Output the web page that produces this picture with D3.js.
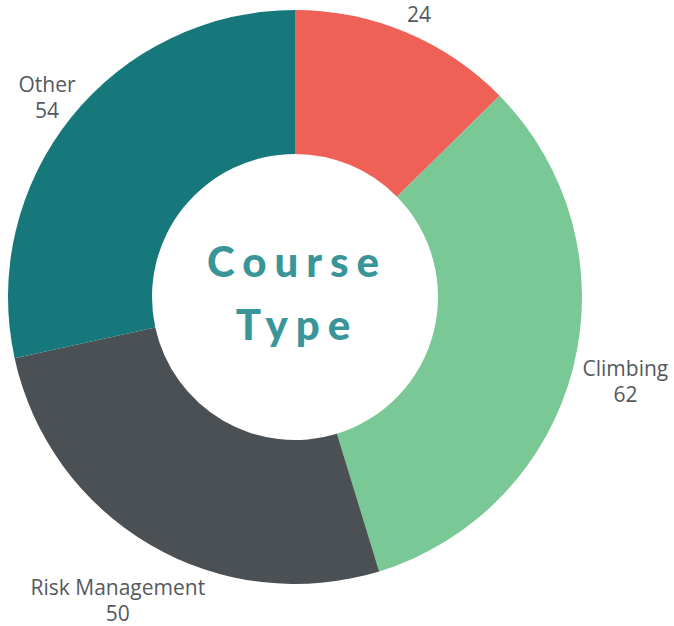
<!DOCTYPE html>
<html lang="en">
<head>
  <meta charset="UTF-8">
  <title>Course Type</title>
  <script src="https://d3js.org/d3.v7.min.js"></script>
  <style>
    body { margin: 0; background: #fff; }
  </style>
</head>
<body>
  <div id="chart"></div>

  <script>
    const categories = ["", "Climbing", "Risk Management", "Other"];
    const values = [24, 62, 50, 54];
    const colors = ["#ef6157", "#7bc897", "#4b5054", "#17787c"];
    const centerLines = ["Course", "Type"];

    const width = 674;
    const height = 626;
    const cx = 295, cy = 297;
    const outerR = 287, innerR = 143;
    const labelGap = 280;
    const lineH = 26;

    const data = categories.map((c, i) => ({ name: c, value: values[i], color: colors[i] }));

    const svg = d3.select("#chart")
      .append("svg")
      .attr("width", width)
      .attr("height", height);

    const g = svg.append("g")
      .attr("transform", `translate(${cx},${cy})`);

    const pie = d3.pie()
      .value(d => d.value)
      .sort(null);

    const arc = d3.arc()
      .innerRadius(innerR)
      .outerRadius(outerR);

    const arcs = pie(data);

    g.selectAll(".slice")
      .data(arcs)
      .enter().append("path")
      .attr("class", "slice")
      .attr("d", arc)
      .attr("fill", d => d.data.color);

    // labels: name on top, value below, pushed out along the mid angle
    const labels = g.selectAll(".label")
      .data(arcs)
      .enter().append("text")
      .attr("class", "label")
      .attr("text-anchor", "middle")
      .style("font-family", "'Open Sans', sans-serif")
      .style("font-size", "21px")
      .style("fill", "#55595d");

    labels.append("tspan")
      .attr("x", 0)
      .attr("dy", 0)
      .text(d => d.data.name);

    labels.append("tspan")
      .attr("x", 0)
      .attr("dy", lineH)
      .text(d => d.data.value);

    labels.each(function(d) {
      const b = this.getBBox();
      let box = { x: b.x, y: b.y, width: b.width, height: b.height };
      // first slice's name is off the top of the picture, keep room for that line anyway
      if (!d.data.name) {
        box.y -= lineH;
        box.height += lineH;
        box.x -= 45;
        box.width += 90;
      }
      const a = (d.startAngle + d.endAngle) / 2;
      const s = Math.sin(a), c = -Math.cos(a);
      const r = labelGap + 1.4 * Math.abs(box.width / 2 * s) + 0.4 * Math.abs(box.height / 2 * c);
      const bx = box.x + box.width / 2, by = box.y + box.height / 2;
      d3.select(this).attr("transform", `translate(${r * s - bx},${r * c - by})`);
    });

    const center = g.append("text")
      .attr("text-anchor", "middle")
      .style("font-family", "Lato, sans-serif")
      .style("font-weight", "900")
      .style("font-size", "42px")
      .style("letter-spacing", "8px")
      .style("fill", "#3a9599");

    center.selectAll("tspan")
      .data(centerLines)
      .enter().append("tspan")
      .attr("x", 2)
      .attr("y", (d, i) => -20 + i * 63)
      .text(d => d);
  </script>
</body>
</html>
